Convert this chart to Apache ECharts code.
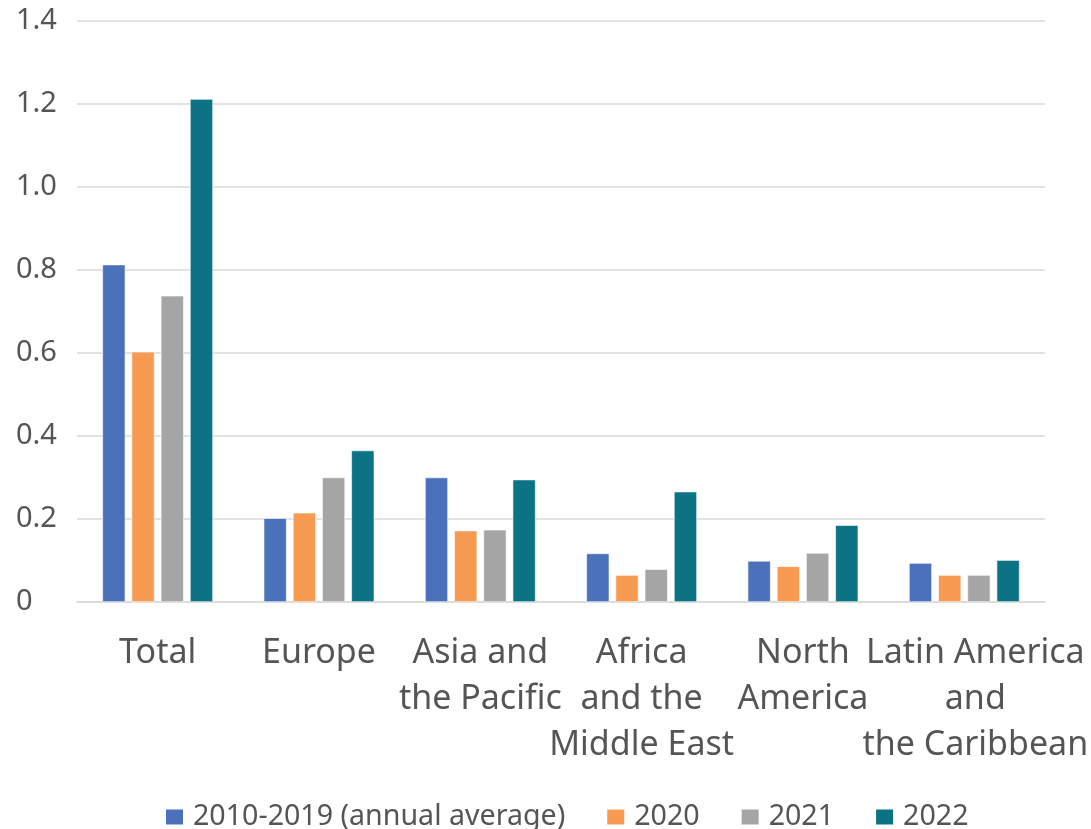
<!DOCTYPE html>
<html>
<head>
<meta charset="utf-8">
<script src="https://cdn.jsdelivr.net/npm/echarts@6/dist/echarts.min.js"></script>
<style>
  html, body { margin: 0; padding: 0; background: #ffffff; }
  #chart { width: 1091px; height: 829px; }
</style>
</head>
<body>
<div id="chart"></div>
<script>
// Regions shown along the x axis
const regions = [
  'Total',
  'Europe',
  'Asia and\nthe Pacific',
  'Africa\nand the\nMiddle East',
  'North\nAmerica',
  'Latin America\nand\nthe Caribbean'
];

// Series names and values per region
const seriesNames = ['2010-2019 (annual average)', '2020', '2021', '2022'];
const avg2010to2019 = [0.813, 0.202, 0.300, 0.117, 0.099, 0.094];
const y2020         = [0.603, 0.215, 0.172, 0.065, 0.086, 0.065];
const y2021         = [0.738, 0.300, 0.174, 0.079, 0.118, 0.065];
const y2022         = [1.212, 0.365, 0.295, 0.266, 0.185, 0.101];

// Value axis ticks
const yTicks = [0, 0.2, 0.4, 0.6, 0.8, 1.0, 1.2, 1.4];

const colors = ['#4A71BA', '#F79A52', '#A5A5A5', '#0B7384'];
const textColor = '#555555';
const fontFamily = '"Noto Sans", "Open Sans", sans-serif';

const seriesData = [avg2010to2019, y2020, y2021, y2022];

const chart = echarts.init(document.getElementById('chart'), null, { renderer: 'canvas' });

chart.setOption({
  animation: false,
  color: colors,
  textStyle: { fontFamily: fontFamily, color: textColor },
  grid: { left: 77, right: 44, top: 21, bottom: 227, containLabel: false },
  legend: {
    top: 800,
    left: 164,
    padding: 0,
    itemWidth: 19,
    itemHeight: 17,
    itemGap: 40,
    icon: 'rect',
    textStyle: {
      fontSize: 28.6, lineHeight: 34, color: textColor, fontFamily: fontFamily,
      padding: [0, 0, 0, 4]
    },
    data: seriesNames
  },
  xAxis: {
    type: 'category',
    data: regions,
    axisLine: { show: true, lineStyle: { color: '#D9D9D9', width: 1.5 } },
    axisTick: { show: false },
    axisLabel: {
      interval: 0,
      margin: 28,
      fontSize: 34,
      lineHeight: 46,
      color: textColor,
      fontFamily: fontFamily,
      formatter: function (value, index) {
        return index === regions.length - 1 ? '{shift|' + value.split('\n').join('}\n{shift|') + '}' : value;
      },
      rich: {
        shift: { fontSize: 34, lineHeight: 46, color: textColor, fontFamily: fontFamily, padding: [0, 0, 0, 22] }
      }
    }
  },
  yAxis: {
    type: 'value',
    min: yTicks[0],
    max: yTicks[yTicks.length - 1],
    interval: 0.2,
    axisLine: { show: false },
    axisTick: { show: false },
    splitLine: { show: true, lineStyle: { color: '#D9D9D9', width: 1.5 } },
    axisLabel: {
      align: 'left',
      margin: 61,
      fontSize: 29,
      color: textColor,
      fontFamily: fontFamily,
      formatter: function (v) {
        return v === 0 ? '0' : v.toFixed(1);
      }
    }
  },
  series: seriesNames.map(function (name, i) {
    return {
      name: name,
      type: 'bar',
      data: seriesData[i],
      barWidth: 23,
      barGap: '27%',
      itemStyle: { color: colors[i], borderColor: '#ffffff', borderWidth: 0.6 }
    };
  })
});
</script>
</body>
</html>
